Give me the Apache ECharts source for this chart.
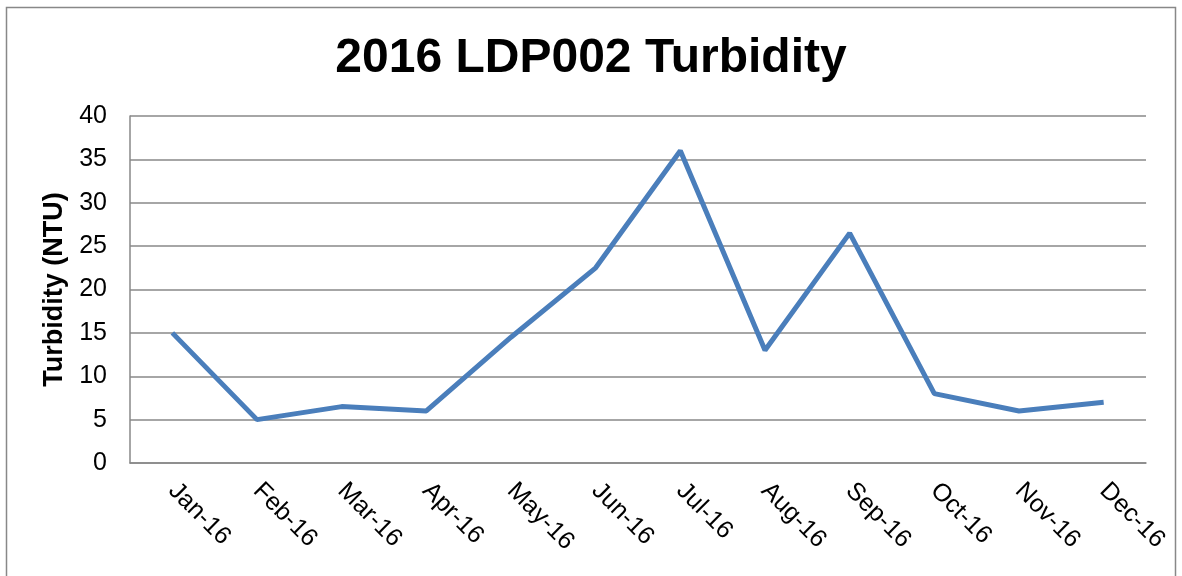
<!DOCTYPE html>
<html lang="en">
    <head>
        <meta charset="UTF-8" />
        <title>2016 LDP002 Turbidity</title>
        <script src="https://cdn.jsdelivr.net/npm/echarts@6/dist/echarts.min.js"></script>
        <style>
            html, body { margin: 0; padding: 0; background: #fff; }
            #chart { width: 1182px; height: 576px; }
        </style>
    </head>
    <body>
        <div id="chart"></div>
        <script>
            // monthly turbidity readings (NTU)
            var months = ['Jan-16', 'Feb-16', 'Mar-16', 'Apr-16', 'May-16', 'Jun-16',
                'Jul-16', 'Aug-16', 'Sep-16', 'Oct-16', 'Nov-16', 'Dec-16'];
            var turbidity = [15, 5, 6.5, 6, 14.5, 22.5, 36, 13, 26.5, 8, 6, 7];
            var yTicks = [0, 5, 10, 15, 20, 25, 30, 35, 40];

            var myChart = echarts.init(document.getElementById('chart'));
            var font = 'Liberation Sans, Arial, sans-serif';

            var option = {
                animation: false,
                title: {
                    text: '2016 LDP002 Turbidity',
                    left: 'center',
                    top: 30,
                    textStyle: { fontFamily: font, fontSize: 48, fontWeight: 'bold', color: '#000' }
                },
                graphic: [{
                    type: 'rect',
                    shape: { x: 6.5, y: 7.5, width: 1169, height: 580 },
                    style: { fill: 'none', stroke: '#888', lineWidth: 1.5 },
                    silent: true
                }],
                grid: { left: 130, right: 36, top: 116, bottom: 113 },
                xAxis: {
                    type: 'category',
                    data: months,
                    boundaryGap: true,
                    axisLine: { lineStyle: { color: '#888', width: 1.5 } },
                    axisTick: { show: false },
                    axisLabel: {
                        rotate: -45,
                        margin: 24,
                        fontFamily: font,
                        fontSize: 25,
                        color: '#000'
                    }
                },
                yAxis: {
                    type: 'value',
                    min: yTicks[0],
                    max: yTicks[yTicks.length - 1],
                    interval: 5,
                    name: 'Turbidity (NTU)',
                    nameLocation: 'middle',
                    nameGap: 59,
                    nameTextStyle: { fontFamily: font, fontSize: 27, fontWeight: 'bold', color: '#000' },
                    axisLine: { show: true, lineStyle: { color: '#888', width: 1.5 } },
                    axisTick: { show: false },
                    axisLabel: { margin: 23, fontFamily: font, fontSize: 25, color: '#000' },
                    splitLine: { lineStyle: { color: '#888', width: 1.5 } }
                },
                series: [{
                    name: 'Turbidity',
                    type: 'line',
                    data: turbidity,
                    symbol: 'none',
                    lineStyle: { color: '#4a7ebb', width: 5 }
                }]
            };
            myChart.setOption(option, true);
        </script>
    </body>
</html>
